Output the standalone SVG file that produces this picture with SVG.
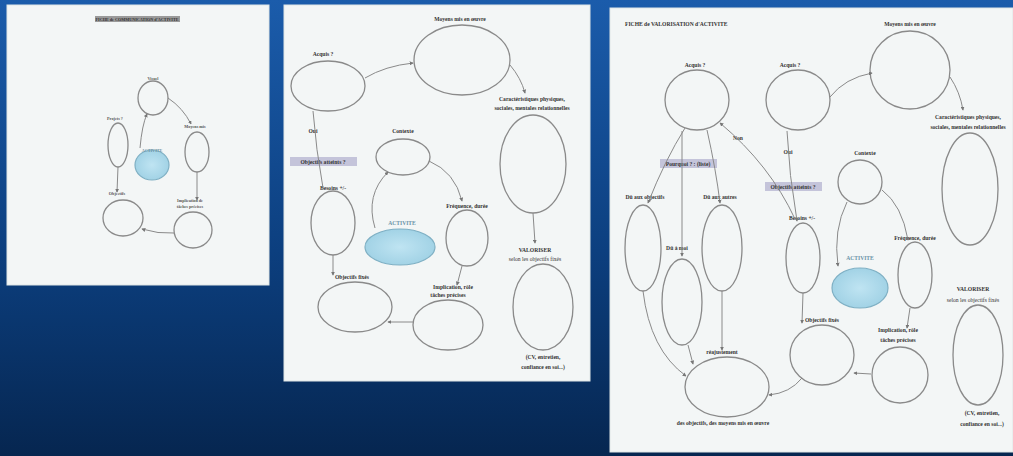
<svg xmlns="http://www.w3.org/2000/svg" width="1013" height="456" viewBox="0 0 1013 456">
<defs>
<linearGradient id="bg" x1="0" y1="0" x2="0" y2="1">
<stop offset="0" stop-color="#1b5cab"/>
<stop offset="0.55" stop-color="#0c3f7f"/>
<stop offset="1" stop-color="#062650"/>
</linearGradient>
<radialGradient id="blue" cx="0.5" cy="0.5" r="0.6">
<stop offset="0" stop-color="#bfe4f2"/>
<stop offset="1" stop-color="#9ccfe3"/>
</radialGradient>
<marker id="ar" viewBox="0 0 6 6" refX="5" refY="3" markerWidth="4" markerHeight="4" orient="auto">
<path d="M0,0 L6,3 L0,6 z" fill="#777"/>
</marker>
</defs>
<style>
.paper{fill:#f3f6f6;stroke:#dfe6e6;stroke-width:1}
.n{fill:none;stroke:#8a8a8a;stroke-width:1.3}
.act{fill:url(#blue);stroke:#7fb0c4;stroke-width:1.2}
.c{fill:none;stroke:#8a8a8a;stroke-width:1;marker-end:url(#ar)}
.cn{fill:none;stroke:#8a8a8a;stroke-width:1}
.t{font-family:"Liberation Serif",serif;font-size:5.6px;font-weight:bold;fill:#333;text-anchor:middle}
.ts{font-family:"Liberation Serif",serif;font-size:4.2px;font-weight:bold;fill:#555;text-anchor:middle}
.tl{font-family:"Liberation Serif",serif;font-size:5.6px;font-weight:bold;fill:#333}
.hl{fill:#c4c4da}
</style>
<rect width="1013" height="456" fill="url(#bg)"/>

<!-- Panel 1 -->
<g id="panel1">
<rect class="paper" x="7" y="5" width="262" height="280"/>
<rect x="95" y="16" width="85" height="6" fill="#9a9a9a"/>
<text class="ts" x="137" y="20.5" style="fill:#333">FICHE de COMMUNICATION d'ACTIVITE</text>
<g id="p1-visuel"><ellipse class="n" cx="153" cy="98" rx="15" ry="17"/><text class="ts" x="153" y="80">Visuel</text></g>
<g id="p1-projets"><ellipse class="n" cx="118" cy="145" rx="10" ry="22"/><text class="ts" x="115" y="120">Projets ?</text></g>
<g id="p1-moyens"><ellipse class="n" cx="197" cy="152" rx="12" ry="20"/><text class="ts" x="195" y="128">Moyens mis</text></g>
<g id="p1-activite"><ellipse class="act" cx="152" cy="165" rx="17" ry="15"/><text class="ts" x="152" y="152" style="fill:#6a8fa0">ACTIVITE</text></g>
<g id="p1-objectifs"><ellipse class="n" cx="123" cy="218" rx="20" ry="18"/><text class="ts" x="117" y="195">Objectifs</text></g>
<g id="p1-implication"><ellipse class="n" cx="193" cy="230" rx="19" ry="18"/><text class="ts" x="190" y="202">Implication de</text><text class="ts" x="190" y="208">tâches précises</text></g>
<g id="p1-connectors">
<path class="c" d="M168,98 Q183,108 191,124"/>
<path class="c" d="M197,172 L197,200"/>
<path class="c" d="M174,233 Q158,234 142,229"/>
<path class="c" d="M118,167 L117,192"/>
<path class="c" d="M140,148 Q142,125 147,114"/>
</g>
</g>

<!-- Panel 2 -->
<g id="panel2">
<rect class="paper" x="284" y="5" width="306" height="376"/>
<g id="p2-moyens"><ellipse class="n" cx="462" cy="60" rx="48" ry="35"/><text class="t" x="460" y="21">Moyens mis en œuvre</text></g>
<g id="p2-acquis"><ellipse class="n" cx="328" cy="86" rx="37" ry="25"/><text class="t" x="323" y="56">Acquis ?</text></g>
<g id="p2-carac"><ellipse class="n" cx="533" cy="164" rx="33" ry="49"/><text class="t" x="532" y="101">Caractéristiques physiques,</text><text class="t" x="532" y="110">sociales, mentales relationnelles</text></g>
<g id="p2-contexte"><ellipse class="n" cx="403" cy="157" rx="27" ry="18"/><text class="t" x="403" y="133">Contexte</text></g>
<g id="p2-besoins"><ellipse class="n" cx="333" cy="223" rx="22" ry="32"/><text class="t" x="333" y="190">Besoins +/-</text></g>
<g id="p2-activite"><ellipse class="act" cx="400" cy="247" rx="35" ry="18"/><text class="t" x="402" y="225" style="fill:#6a94a8">ACTIVITE</text></g>
<g id="p2-frequence"><ellipse class="n" cx="467" cy="238" rx="21" ry="28"/><text class="t" x="467" y="208">Fréquence, durée</text></g>
<g id="p2-objfixes"><ellipse class="n" cx="355" cy="307" rx="37" ry="25"/><text class="t" x="352" y="279">Objectifs fixés</text></g>
<g id="p2-implication"><ellipse class="n" cx="448" cy="325" rx="35" ry="25"/><text class="t" x="453" y="289">Implication, rôle</text><text class="t" x="448" y="297">tâches précises</text></g>
<g id="p2-valoriser"><ellipse class="n" cx="543" cy="307" rx="30" ry="43"/><text class="t" x="535" y="252">VALORISER</text><text class="t" x="535" y="261" style="font-weight:normal">selon les objectifs fixés</text><text class="t" x="543" y="359">(CV, entretien,</text><text class="t" x="543" y="369">confiance en soi...)</text></g>
<g id="p2-labels">
<text class="t" x="313" y="133">Oui</text>
<rect class="hl" x="290" y="157" width="67" height="9"/>
<text class="t" x="323" y="163.5">Objectifs atteints ?</text>
</g>
<g id="p2-connectors">
<path class="c" d="M365,78 Q385,66 413,63"/>
<path class="c" d="M510,65 Q521,78 525,93"/>
<path class="cn" d="M313,111 Q316,150 323,188"/>
<path class="c" d="M333,255 L333,275"/>
<path class="c" d="M413,322 L388,322"/>
<path class="c" d="M462,266 L457,285"/>
<path class="c" d="M533,213 L535,243"/>
<path class="c" d="M375,228 Q365,195 388,172"/>
<path class="c" d="M429,161 Q455,172 462,201"/>
</g>
</g>

<!-- Panel 3 -->
<g id="panel3">
<rect class="paper" x="610" y="8" width="403" height="444"/>
<text class="tl" x="625" y="26">FICHE de VALORISATION d'ACTIVITE</text>
<g id="p3-moyens"><ellipse class="n" cx="910" cy="70" rx="40" ry="39"/><text class="t" x="910" y="26">Moyens mis en œuvre</text></g>
<g id="p3-acquis1"><ellipse class="n" cx="697" cy="100" rx="32" ry="30"/><text class="t" x="695" y="67">Acquis ?</text></g>
<g id="p3-acquis2"><ellipse class="n" cx="798" cy="100" rx="32" ry="30"/><text class="t" x="790" y="67">Acquis ?</text></g>
<g id="p3-carac"><ellipse class="n" cx="970" cy="189" rx="28" ry="56"/><text class="t" x="968" y="119">Caractéristiques physiques,</text><text class="t" x="968" y="129">sociales, mentales relationnelles</text></g>
<g id="p3-duobj"><ellipse class="n" cx="643" cy="248" rx="18" ry="43"/><text class="t" x="645" y="199">Dû aux objectifs</text></g>
<g id="p3-duautres"><ellipse class="n" cx="722" cy="248" rx="20" ry="43"/><text class="t" x="720" y="199">Dû aux autres</text></g>
<g id="p3-dumoi"><ellipse class="n" cx="682" cy="302" rx="20" ry="43"/><text class="t" x="677" y="250">Dû à moi</text></g>
<g id="p3-contexte"><ellipse class="n" cx="860" cy="182" rx="22" ry="22"/><text class="t" x="865" y="155">Contexte</text></g>
<g id="p3-besoins"><ellipse class="n" cx="803" cy="258" rx="17" ry="35"/><text class="t" x="802" y="220">Besoins +/-</text></g>
<g id="p3-activite"><ellipse class="act" cx="860" cy="288" rx="28" ry="20"/><text class="t" x="860" y="260" style="fill:#6a94a8">ACTIVITE</text></g>
<g id="p3-frequence"><ellipse class="n" cx="915" cy="275" rx="17" ry="33"/><text class="t" x="915" y="240">Fréquence, durée</text></g>
<g id="p3-valoriser"><ellipse class="n" cx="978" cy="355" rx="25" ry="50"/><text class="t" x="973" y="291">VALORISER</text><text class="t" x="973" y="302" style="font-weight:normal">selon les objectifs fixés</text><text class="t" x="982" y="415">(CV, entretien,</text><text class="t" x="982" y="426">confiance en soi...)</text></g>
<g id="p3-objfixes"><ellipse class="n" cx="822" cy="355" rx="32" ry="30"/><text class="t" x="822" y="322">Objectifs fixés</text></g>
<g id="p3-implication"><ellipse class="n" cx="900" cy="375" rx="28" ry="28"/><text class="t" x="898" y="332">Implication, rôle</text><text class="t" x="898" y="342">tâches précises</text></g>
<g id="p3-reajust"><ellipse class="n" cx="727" cy="387" rx="42" ry="30"/><text class="t" x="722" y="354">réajustement</text><text class="t" x="723" y="425">des objectifs, des moyens mis en œuvre</text></g>
<g id="p3-labels">
<text class="t" x="738" y="140">Non</text>
<text class="t" x="788" y="154">Oui</text>
<rect class="hl" x="660" y="159" width="57" height="9"/>
<text class="t" x="688" y="165.5">Pourquoi ? : (liste)</text>
<rect class="hl" x="765" y="182" width="57" height="9"/>
<text class="t" x="793" y="188.5">Objectifs atteints ?</text>
</g>
<g id="p3-connectors">
<path class="c" d="M830,97 Q845,78 872,73"/>
<path class="c" d="M950,77 Q960,92 963,110"/>
<path class="c" d="M795,219 Q770,165 720,123"/>
<path class="c" d="M685,128 Q665,160 648,203"/>
<path class="c" d="M682,131 L682,256"/>
<path class="c" d="M707,130 Q716,170 720,203"/>
<path class="c" d="M787,131 Q789,175 797,221"/>
<path class="c" d="M847,202 Q833,230 838,266"/>
<path class="c" d="M882,190 Q902,205 908,240"/>
<path class="c" d="M803,293 L802,323"/>
<path class="c" d="M910,308 L907,328"/>
<path class="c" d="M871,374 L854,373"/>
<path class="c" d="M722,291 L722,350"/>
<path class="c" d="M802,378 Q790,393 769,395"/>
<path class="c" d="M643,291 Q650,350 686,376"/>
<path class="c" d="M688,345 L693,364"/>
</g>
</g>
</svg>
